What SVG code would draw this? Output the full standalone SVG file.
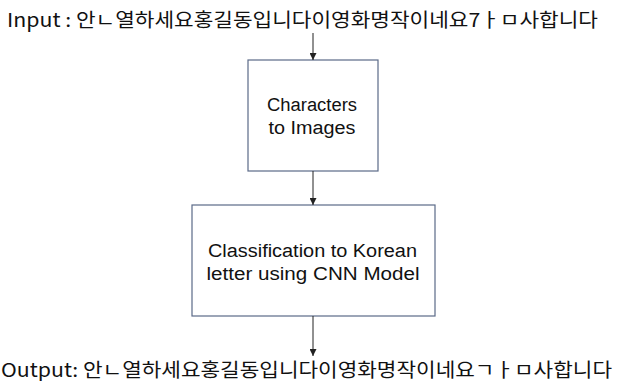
<svg xmlns="http://www.w3.org/2000/svg" width="619" height="381" viewBox="0 0 619 381">
<style>
.t{font-family:"Noto Sans CJK KR","Noto Sans",sans-serif;fill:#111;}
.big{font-size:19px;}
.lbl{font-family:"Liberation Sans","Noto Sans",sans-serif;font-size:18px;text-anchor:middle;fill:#111;}
.box{fill:#fff;stroke:#5b6a88;stroke-width:1.2;}
.ln{stroke:#222;stroke-width:1;fill:none;}
</style>
<defs>
<marker id="ah" viewBox="0 0 10 10" refX="10" refY="5" markerWidth="7" markerHeight="7" markerUnits="userSpaceOnUse" orient="auto">
<path d="M0,0 L10,5 L0,10 z" fill="#222"/>
</marker>
</defs>
<rect width="619" height="381" fill="#fff"/>
<g id="input">
<text class="t big" x="7" y="27" textLength="591" lengthAdjust="spacingAndGlyphs">Input : 안ㄴ열하세요홍길동입니다이영화명작이네요7ㅏㅁ사합니다</text>
</g>
<g id="node1">
<rect class="box" x="248" y="60" width="130" height="111"/>
<text class="lbl" x="312" y="111" textLength="90" lengthAdjust="spacingAndGlyphs">Characters</text>
<text class="lbl" x="312" y="134" textLength="87" lengthAdjust="spacingAndGlyphs">to Images</text>
</g>
<g id="node2">
<rect class="box" x="192" y="205" width="243" height="111"/>
<text class="lbl" x="312.5" y="257" textLength="209" lengthAdjust="spacingAndGlyphs">Classification to Korean</text>
<text class="lbl" x="313" y="280" textLength="213" lengthAdjust="spacingAndGlyphs">letter using CNN Model</text>
</g>
<g id="output">
<text class="t big" x="1" y="377" textLength="611" lengthAdjust="spacingAndGlyphs">Output: 안ㄴ열하세요홍길동입니다이영화명작이네요ㄱㅏㅁ사합니다</text>
</g>
<g id="connectors">
<line class="ln" x1="313" y1="33" x2="313" y2="60" marker-end="url(#ah)"/>
<line class="ln" x1="313" y1="171" x2="313" y2="205" marker-end="url(#ah)"/>
<line class="ln" x1="313" y1="316" x2="313" y2="356" marker-end="url(#ah)"/>
</g>
</svg>
